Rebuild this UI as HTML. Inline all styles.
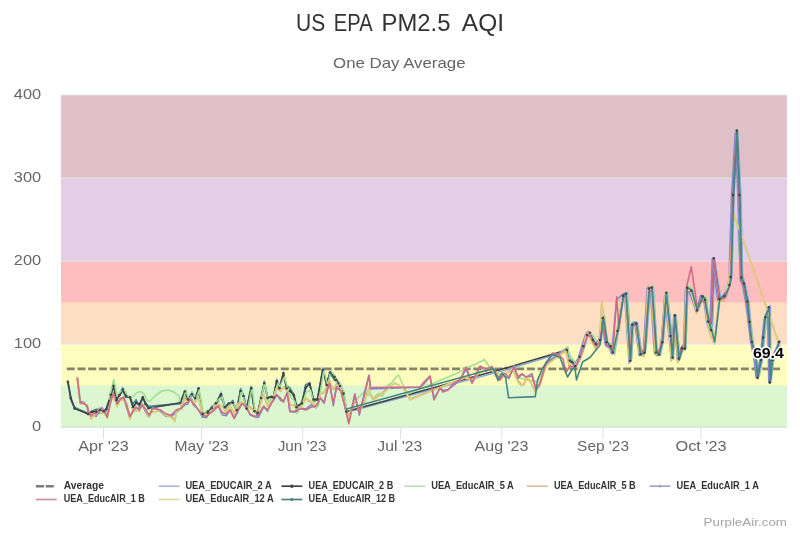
<!DOCTYPE html><html><head><meta charset="utf-8"><style>html,body{margin:0;padding:0;background:#fff;overflow:hidden}svg{display:block;filter:blur(0.45px)}text{font-family:"Liberation Sans",sans-serif}</style></head><body>
<svg width="800" height="533" viewBox="0 0 800 533">
<rect x="0" y="0" width="800" height="533" fill="#fff"/>
<text x="296.09" y="31.4" font-size="23.5" fill="#333" textLength="29.25" lengthAdjust="spacingAndGlyphs">US</text>
<text x="333.77" y="31.4" font-size="23.5" fill="#333" textLength="38.8" lengthAdjust="spacingAndGlyphs">EPA</text>
<text x="381.57" y="31.4" font-size="23.5" fill="#333" textLength="68.86" lengthAdjust="spacingAndGlyphs">PM2.5</text>
<text x="461.8" y="31.4" font-size="23.5" fill="#333" textLength="42.18" lengthAdjust="spacingAndGlyphs">AQI</text>
<text x="399.3" y="68.4" text-anchor="middle" font-size="14.5" fill="#666" textLength="132.5" lengthAdjust="spacingAndGlyphs">One Day Average</text>
<rect x="61" y="95.00" width="726" height="84.00" fill="#dfc0c8"/>
<rect x="61" y="178.00" width="726" height="84.00" fill="#e3cee6"/>
<rect x="61" y="261.00" width="726" height="42.50" fill="#febebf"/>
<rect x="61" y="302.50" width="726" height="42.50" fill="#fddec3"/>
<rect x="61" y="344.00" width="726" height="42.50" fill="#fefdbe"/>
<rect x="61" y="385.50" width="726" height="41.50" fill="#dcf7cf"/>
<line x1="61" x2="787" y1="344.00" y2="344.00" stroke="#e6e6e6" stroke-width="1"/>
<line x1="61" x2="787" y1="261.00" y2="261.00" stroke="#e6e6e6" stroke-width="1"/>
<line x1="61" x2="787" y1="178.00" y2="178.00" stroke="#e6e6e6" stroke-width="1"/>
<line x1="61" x2="787" y1="95.00" y2="95.00" stroke="#e6e6e6" stroke-width="1"/>
<text x="41.1" y="431.10" text-anchor="end" font-size="14.6" fill="#666" textLength="9.2" lengthAdjust="spacingAndGlyphs">0</text>
<text x="41.1" y="348.10" text-anchor="end" font-size="14.6" fill="#666" textLength="27.3" lengthAdjust="spacingAndGlyphs">100</text>
<text x="41.1" y="265.10" text-anchor="end" font-size="14.6" fill="#666" textLength="27.3" lengthAdjust="spacingAndGlyphs">200</text>
<text x="41.1" y="182.10" text-anchor="end" font-size="14.6" fill="#666" textLength="27.3" lengthAdjust="spacingAndGlyphs">300</text>
<text x="41.1" y="99.10" text-anchor="end" font-size="14.6" fill="#666" textLength="27.3" lengthAdjust="spacingAndGlyphs">400</text>
<line x1="61" x2="787" y1="427.1" y2="427.1" stroke="#ccd9cb" stroke-width="1"/>
<line x1="103.50" x2="103.50" y1="427" y2="439" stroke="#dcdfe8" stroke-width="1"/>
<text x="103.50" y="451.0" text-anchor="middle" font-size="14.4" fill="#666" textLength="50.6" lengthAdjust="spacingAndGlyphs">Apr '23</text>
<line x1="201.45" x2="201.45" y1="427" y2="439" stroke="#dcdfe8" stroke-width="1"/>
<text x="201.65" y="451.0" text-anchor="middle" font-size="14.4" fill="#666" textLength="54.3" lengthAdjust="spacingAndGlyphs">May '23</text>
<line x1="302.67" x2="302.67" y1="427" y2="439" stroke="#dcdfe8" stroke-width="1"/>
<text x="302.15" y="451.0" text-anchor="middle" font-size="14.4" fill="#666" textLength="48.9" lengthAdjust="spacingAndGlyphs">Jun '23</text>
<line x1="400.62" x2="400.62" y1="427" y2="439" stroke="#dcdfe8" stroke-width="1"/>
<text x="399.75" y="451.0" text-anchor="middle" font-size="14.4" fill="#666" textLength="44.9" lengthAdjust="spacingAndGlyphs">Jul '23</text>
<line x1="501.83" x2="501.83" y1="427" y2="439" stroke="#dcdfe8" stroke-width="1"/>
<text x="501.50" y="451.0" text-anchor="middle" font-size="14.4" fill="#666" textLength="54.0" lengthAdjust="spacingAndGlyphs">Aug '23</text>
<line x1="603.05" x2="603.05" y1="427" y2="439" stroke="#dcdfe8" stroke-width="1"/>
<text x="603.05" y="451.0" text-anchor="middle" font-size="14.4" fill="#666" textLength="51.9" lengthAdjust="spacingAndGlyphs">Sep '23</text>
<line x1="701.00" x2="701.00" y1="427" y2="439" stroke="#dcdfe8" stroke-width="1"/>
<text x="701.05" y="451.0" text-anchor="middle" font-size="14.4" fill="#666" textLength="51.1" lengthAdjust="spacingAndGlyphs">Oct '23</text>
<line x1="66.8" x2="780" y1="368.90" y2="368.90" stroke="#86836a" stroke-width="2.8" stroke-dasharray="8 2.7"/>
<polyline points="67.8,381.6 70.8,400.3 74.6,408.5 88.2,412.5 91.9,412.5 96.2,409.6 100.0,408.0 103.8,412.2 106.2,411.6 110.8,395.6 113.4,384.3 116.5,400.1 119.5,393.5 122.7,387.3 126.0,395.7 129.9,397.4 133.0,407.2 136.1,402.8 139.5,406.5 142.8,399.0 145.5,403.1 148.5,407.1 180.2,404.0 184.8,393.2 188.0,401.7 192.0,391.7 195.3,400.1 198.6,390.7 202.6,411.8 207.8,414.0 211.7,405.9 215.7,405.7 221.0,392.3 224.9,405.3 228.8,405.0 232.8,403.0 236.7,408.5 240.7,389.1 243.5,394.1 246.6,407.2 251.2,390.7 254.5,410.2 257.7,411.2 261.0,399.8 264.3,381.0 267.6,396.7 271.5,398.2 273.5,396.5 276.8,379.0 279.4,386.9 283.4,372.5 286.6,390.5 290.0,391.4 293.9,393.9 296.5,409.3 301.8,402.0 305.7,388.8 309.6,382.2 313.6,401.3 317.5,399.0 322.8,367.6 326.7,383.7 330.0,371.3 334.6,377.5 336.0,378.4 340.0,383.8 343.5,393.8 346.5,412.2 506.0,370.1 568.1,350.8 571.2,358.7 572.9,361.4 576.1,367.6 581.0,357.3 584.6,347.1 588.0,334.7 591.0,334.8 593.9,341.6 597.0,344.9 601.2,339.5 604.4,315.6 607.4,344.3 611.9,344.3 614.4,354.7 618.5,330.6 624.0,294.9 627.5,292.0 631.7,358.5 633.3,326.2 637.6,323.2 641.9,354.4 645.8,350.2 650.3,290.9 653.6,288.3 657.2,351.8 660.5,355.4 663.2,340.9 667.5,292.8 671.9,336.0 673.4,359.1 676.2,315.5 679.8,358.1 683.0,349.8 685.8,348.6 688.0,288.8 692.2,289.6 698.1,311.1 703.4,296.1 706.1,298.9 709.4,323.9 712.3,332.3 714.8,260.4 720.6,297.5 725.9,298.1 730.2,283.8 732.0,276.2 734.1,192.5 737.7,131.1 741.1,197.5 742.6,275.2 745.2,284.9 749.0,302.2 750.7,321.9 753.2,342.6 756.4,357.8 759.1,376.3 762.0,361.9 764.3,339.8 766.7,318.3 770.3,305.8 771.0,381.4 773.6,361.0 776.7,354.5 780.1,340.7" fill="none" stroke="#8cb1d5" stroke-width="1.6" stroke-opacity="1.0" stroke-linejoin="round" stroke-linecap="round"/>
<polyline points="68.2,382.5 71.0,398.5 74.6,407.2 88.2,414.0 91.9,411.2 96.2,409.3 100.0,412.8 103.8,412.2 106.2,408.7 110.8,396.4 113.4,384.5 116.5,398.9 119.5,395.8 122.7,390.5 126.0,397.5 129.9,396.7 133.0,404.1 136.1,399.6 139.5,406.5 142.8,396.8 145.5,402.9 148.5,406.2 180.2,403.5 184.8,391.4 188.0,398.7 192.0,393.5 195.3,399.3 198.6,389.2 202.6,417.1 207.8,410.5 211.7,410.9 215.7,405.2 221.0,396.7 224.9,407.0 228.8,405.0 232.8,400.4 236.7,411.7 240.7,388.9 243.5,396.5 246.6,408.5 251.2,386.5 254.5,410.5 257.7,415.4 261.0,398.6 264.3,383.7 267.6,397.2 271.5,396.8 273.5,396.0 276.8,380.8 279.4,388.8 283.4,374.7 286.6,385.2 290.0,388.4 293.9,394.4 296.5,405.2 301.8,404.3 305.7,384.5 309.6,383.3 313.6,401.4 317.5,399.7 322.8,369.7 326.7,382.5 330.0,373.6 334.6,380.3 336.0,378.7 340.0,389.0 343.5,396.6 346.5,408.9" fill="none" stroke="#448585" stroke-width="1.6" stroke-opacity="1.0" stroke-linejoin="round" stroke-linecap="round"/>
<polyline points="67.8,381.8 70.8,398.2 74.6,408.5 88.2,414.1 91.9,411.9 96.2,411.6 100.0,410.0 103.8,411.2 106.2,409.2 110.8,394.8 113.4,386.0 116.5,400.0 119.5,395.0 122.7,389.6 126.0,396.0 129.9,397.3 133.0,407.2 136.1,403.0 139.5,404.0 142.8,397.3 145.5,404.0 148.5,408.2 180.2,402.7 184.8,391.5 188.0,399.4 192.0,394.2 195.3,398.0 198.6,388.3 202.6,413.9 207.8,412.6 211.7,408.0 215.7,403.4 221.0,394.2 224.9,407.3 228.8,403.5 232.8,402.7 236.7,410.0 240.7,390.9 243.5,396.0 246.6,408.6 251.2,388.3 254.5,411.2 257.7,412.6 261.0,398.0 264.3,383.0 267.6,398.1 271.5,396.8 273.5,397.5 276.8,381.0 279.4,388.2 283.4,373.1 286.6,388.2 290.0,391.0 293.9,395.5 296.5,407.3 301.8,403.3 305.7,387.6 309.6,383.7 313.6,399.4 317.5,399.4 322.8,369.9 326.7,385.0 330.0,372.5 334.6,377.0 336.0,380.0 340.0,386.0 343.5,393.5 346.5,411.6 506.0,368.0 566.8,350.0 569.8,360.5 572.0,362.0 575.0,366.0 579.5,356.8 583.3,346.3 587.0,335.0 590.0,332.8 593.0,340.0 596.0,344.0 600.0,340.0 602.8,318.0 606.5,342.2 610.6,346.3 612.7,352.5 617.5,331.0 623.0,295.8 626.1,293.7 630.2,360.7 632.3,324.6 636.4,323.6 640.5,354.5 644.6,352.5 648.8,288.6 651.9,287.5 656.0,352.5 659.0,354.5 662.2,342.2 666.3,292.7 670.4,336.0 672.5,357.5 675.0,315.4 678.7,358.5 681.8,348.4 684.8,348.4 687.0,287.8 691.3,290.7 696.9,310.4 702.5,296.3 705.0,300.0 708.1,321.6 711.0,330.0 713.8,258.3 719.4,299.1 724.4,296.0 729.3,285.0 730.5,277.0 733.0,195.0 736.8,130.5 739.4,195.0 741.3,277.6 744.0,283.5 747.4,301.5 749.6,321.8 751.9,342.0 755.3,355.6 757.5,378.0 760.9,360.0 763.2,337.6 765.4,317.3 768.8,307.2 769.9,382.6 772.2,360.0 775.7,352.6 778.9,342.0" fill="none" stroke="#434346" stroke-width="1.6" stroke-opacity="1.0" stroke-linejoin="round" stroke-linecap="round"/>
<polyline points="109.0,399.0 113.8,379.5 117.0,396.0 121.0,391.0 124.0,388.5 127.0,395.0 130.0,397.0 133.5,396.0 137.0,392.5 140.5,391.5 144.0,394.0 147.5,401.0 150.0,401.0 156.0,395.0 162.0,391.0 168.0,390.0 174.0,392.0 179.0,396.0 181.3,408.7 185.9,389.8 188.9,400.7 192.8,392.9 195.9,399.5 199.2,389.9 203.0,412.2 208.8,413.9 212.5,412.1 216.4,401.4 222.0,397.0 225.8,410.4 230.0,404.3 233.8,403.5 237.6,413.4 241.4,389.2 244.3,400.0 247.5,410.1 252.1,387.4 255.0,411.6 258.8,411.9 261.5,396.4 264.7,383.0 268.5,403.0 272.2,397.6 274.1,397.7 277.8,383.4 280.0,386.7 284.4,377.0 287.7,387.8 290.8,396.8 294.8,401.5 297.0,413.6 302.2,404.5 306.1,392.4 310.5,390.0 314.6,405.4 318.3,405.8 323.8,370.5 327.9,385.9 330.6,370.7 335.4,376.3 337.1,386.1 340.6,384.4 344.3,392.5 347.3,416.4 356.0,400.0 364.0,392.0 373.5,398.0 378.0,393.5 382.5,396.5 387.0,386.0 391.6,383.0 396.0,377.0 398.5,375.0 402.0,383.0 406.6,392.0 410.0,393.0 460.0,372.0 466.0,368.0 476.0,364.0 484.6,359.5 490.0,368.0 496.0,374.0 502.0,378.0 508.0,372.0 514.0,370.0 520.0,378.0 528.0,380.0 537.5,382.0 546.5,364.0 567.9,346.7 570.1,361.5 572.4,358.6 575.8,363.7 580.5,354.0 584.4,343.9 587.8,335.7 590.8,333.4 593.9,336.2 597.0,342.9 600.5,337.0 603.8,315.0 607.6,342.1 611.7,345.1 613.6,351.6 618.0,331.8 623.5,295.7 627.2,293.0 630.6,360.8 633.1,321.5 636.7,322.3 640.8,355.1 645.3,351.1 649.4,287.9 652.9,285.0 656.6,351.4 659.5,353.5 662.9,340.4 667.1,291.3 670.8,337.0 673.1,355.7 675.6,316.0 679.8,357.1 682.4,344.9 685.8,345.3 687.7,285.5 691.9,288.5 697.4,306.6 703.2,296.3 705.8,297.0 709.0,317.9 715.2,340.0 715.2,340.0 720.4,297.6 725.1,294.9 731.0,270.0 734.0,216.0 737.0,222.0 741.0,275.0 745.0,290.0 750.0,322.0 753.0,345.0 757.0,372.0 762.0,355.0 766.0,318.0 769.0,309.0 771.0,372.0 776.0,352.0" fill="none" stroke="#a2df96" stroke-width="1.6" stroke-opacity="1.0" stroke-linejoin="round" stroke-linecap="round"/>
<polyline points="77.4,377.5 80.2,402.3 84.4,403.7 87.2,405.9 88.5,411.6 91.0,419.0 94.0,415.7 96.0,413.4 99.0,410.3 102.0,413.8 105.0,411.1 107.2,416.2 110.8,402.3 113.4,395.2 117.0,405.7 120.6,398.1 123.7,400.7 126.8,403.3 130.0,419.7 133.0,409.7 136.1,410.6 139.2,410.4 142.3,403.8 145.4,409.4 149.0,415.3 152.6,412.1 155.3,411.7 160.5,410.5 165.8,416.3 171.0,415.7 175.0,420.0 176.3,411.3 181.5,408.1 184.8,398.0 188.1,402.0 190.7,398.5 193.4,404.6 198.6,397.4 202.6,416.2 206.5,414.6 210.4,413.5 214.4,404.7 218.3,404.2 222.3,406.2 226.2,412.1 230.2,406.1 234.1,413.2 238.0,403.2 242.0,402.5 245.9,406.9 250.0,406.7 254.5,411.4 258.4,410.4 263.7,394.7 267.6,406.3 271.5,402.1 276.8,388.4 280.7,391.4 283.4,386.9 287.3,391.0 289.9,404.9 295.2,405.4 300.4,408.9 305.7,398.7 311.0,402.6 316.2,405.8 320.2,394.9 324.1,392.6 329.4,381.5 333.3,389.5 336.5,383.7 340.5,388.0 344.3,401.9 348.8,417.2 354.8,400.4 359.3,410.3 364.5,402.7 369.0,387.7 370.5,393.3 373.0,399.3 380.0,394.7 387.0,388.9 395.0,383.1 400.0,386.6 405.0,389.1 410.0,399.1 465.0,378.1 472.0,379.5 480.0,372.1 488.0,368.8 496.0,372.3 502.0,376.8 508.0,371.9 512.7,370.2 516.0,377.8 518.4,381.1 521.2,384.3 524.0,384.7 526.2,378.0 530.0,381.2 535.0,391.5 540.0,385.5 546.0,364.6 565.8,351.4 568.9,365.6 571.3,365.9 574.0,369.2 579.1,359.9 583.0,351.3 586.2,335.9 589.5,333.8 591.9,342.0 595.6,348.8 599.7,340.1 601.8,301.0 606.2,342.5 609.6,344.5 611.6,353.3 616.7,332.1 622.1,299.5 625.1,297.4 629.7,361.5 631.7,326.5 635.8,325.1 639.7,353.9 643.8,356.6 648.0,286.0 651.2,289.5 655.3,354.7 658.0,353.6 661.6,339.6 665.4,292.8 669.5,333.9 671.4,359.6 674.5,321.0 678.0,362.8 681.4,351.4 684.1,349.8 686.1,290.3 690.8,291.9 696.5,313.2 701.9,301.3 704.4,297.8 707.2,320.9 709.9,333.5 714.5,343.0 718.9,300.1 724.1,301.3 728.6,285.9 733.8,213.3 776.7,337.1 780.0,346.7" fill="none" stroke="#e0a97b" stroke-width="1.6" stroke-opacity="1.0" stroke-linejoin="round" stroke-linecap="round"/>
<polyline points="77.4,377.6 80.2,401.2 84.4,402.5 87.2,407.8 88.5,413.3 91.0,416.2 94.0,413.4 96.0,416.5 99.0,412.4 102.0,407.6 105.0,412.9 107.2,415.9 110.8,400.3 113.4,394.8 117.0,402.5 120.6,398.7 123.7,397.2 126.8,408.4 130.0,418.0 133.0,411.5 136.1,409.4 139.2,407.6 142.3,404.6 145.4,411.3 149.0,417.4 152.6,407.4 155.3,408.4 160.5,411.3 165.8,416.3 171.0,416.6 176.3,412.2 181.5,408.2 184.8,405.0 188.1,403.7 190.7,397.0 193.4,402.6 198.6,410.4 202.6,417.0 206.5,417.6 210.4,411.2 214.4,407.8 218.3,406.2 222.3,415.0 226.2,415.8 230.2,409.9 234.1,418.5 238.0,411.4 242.0,403.2 245.9,404.9 250.0,414.8 254.5,416.8 258.4,417.5 263.7,407.0 267.6,411.1 271.5,401.0 276.8,394.4 280.7,400.5 283.4,401.5 287.3,392.3 289.9,411.6 295.2,412.1 300.4,408.1 305.7,409.1 311.0,404.8 316.2,407.8 320.2,397.7 324.1,403.3 329.4,380.7 333.3,405.6 336.5,385.5 340.5,388.4 344.3,404.2 348.8,421.8 354.8,393.9 359.3,415.1 364.5,392.5 369.0,375.2 370.5,388.9 420.0,387.3 424.0,384.1 430.0,376.6 434.0,398.3 440.0,388.4 443.0,390.3 448.0,389.5 454.0,385.2 460.0,379.8 466.0,369.4 472.0,383.0 476.0,375.8 480.0,366.5 486.0,371.4 492.0,366.3 496.0,376.2 500.0,377.9 504.0,375.3 509.0,378.5 514.0,365.6 518.0,378.6 522.0,373.9 526.0,377.1 532.0,373.6 536.0,389.0 540.0,383.1 546.0,363.0 565.9,348.8 568.7,361.4 571.1,362.5 574.0,365.3 578.6,357.4 581.7,346.5 585.8,333.7 588.6,331.4 591.4,339.4 594.5,343.9 598.9,340.6 601.8,321.0 605.5,345.4 609.4,348.2 611.7,353.7 616.5,300.0 621.7,295.2 624.5,293.1 629.1,363.3 631.1,325.2 634.7,322.1 639.3,355.6 643.3,351.9 647.2,288.0 650.3,289.0 654.5,353.8 657.6,355.7 661.1,344.6 664.7,296.0 669.4,338.6 671.2,360.8 673.9,315.1 677.5,361.2 680.7,351.4 683.5,350.3 685.4,289.6 689.7,292.8 695.9,310.8 700.9,295.0 703.7,299.3 707.0,323.1 709.7,331.9 712.2,259.1 717.7,300.3 723.3,295.3 728.2,288.5 729.1,276.5 731.5,197.7 735.2,132.9 737.9,197.3 740.3,280.3 742.5,284.7 746.0,304.4 748.1,321.1 750.5,340.9 753.8,357.6 756.1,377.4 759.9,359.8 762.1,339.5 764.1,319.0 767.6,309.9 768.8,382.4 771.0,361.0 774.7,351.7 777.6,345.3" fill="none" stroke="#8588c9" stroke-width="1.6" stroke-opacity="1.0" stroke-linejoin="round" stroke-linecap="round"/>
<polyline points="77.4,378.0 80.2,403.6 84.4,403.4 87.2,405.7 88.5,410.6 91.0,417.9 94.0,414.4 96.0,414.8 99.0,409.4 102.0,413.1 105.0,412.9 107.2,418.1 110.8,400.9 113.4,394.3 117.0,407.2 120.6,399.6 123.7,400.0 126.8,405.1 130.0,419.2 133.0,411.0 136.1,409.2 139.2,411.8 142.3,404.2 145.4,409.5 149.0,417.2 152.6,412.2 155.3,412.0 160.5,410.3 165.8,415.6 171.0,417.2 175.0,421.8 176.3,409.8 181.5,409.6 184.8,399.5 188.1,401.4 190.7,398.1 193.4,403.2 198.6,398.5 202.6,415.3 206.5,414.9 210.4,411.6 214.4,405.8 218.3,405.1 222.3,406.9 226.2,412.6 230.2,405.1 234.1,414.4 238.0,405.0 242.0,401.8 245.9,408.0 250.0,408.1 254.5,412.5 258.4,411.9 263.7,394.3 267.6,406.1 271.5,400.2 276.8,387.2 280.7,391.0 283.4,386.4 287.3,390.4 289.9,404.0 295.2,407.1 300.4,408.5 305.7,398.0 311.0,400.9 316.2,407.2 320.2,394.5 324.1,391.1 329.4,381.1 333.3,388.3 336.5,384.7 340.5,387.6 344.3,403.2 348.8,418.9 354.8,398.6 359.3,412.1 364.5,401.9 369.0,389.6 370.5,394.6 373.0,400.0 380.0,396.0 387.0,390.0 395.0,383.0 400.0,386.0 405.0,391.0 410.0,400.0 465.0,377.0 472.0,380.0 480.0,372.0 488.0,368.0 496.0,372.0 502.0,378.0 508.0,372.0 512.7,369.0 516.0,378.0 518.4,382.7 521.2,386.0 524.0,382.7 526.2,377.0 530.0,380.0 535.0,392.0 540.0,384.0 546.0,366.0 565.8,350.1 568.9,364.0 571.3,364.6 574.0,367.5 579.1,358.4 583.0,349.7 586.2,334.0 589.5,332.4 591.9,342.7 595.6,347.2 599.7,340.0 601.8,301.1 606.2,341.8 609.6,345.4 611.6,351.7 616.7,330.8 622.1,299.4 625.1,296.8 629.7,362.5 631.7,327.5 635.8,323.7 639.7,354.7 643.8,356.4 648.0,287.9 651.2,290.6 655.3,355.0 658.0,353.8 661.6,341.4 665.4,293.6 669.5,335.2 671.4,361.3 674.5,319.2 678.0,362.3 681.4,350.5 684.1,349.9 686.1,288.7 690.8,290.7 696.5,311.9 701.9,299.4 704.4,299.7 707.2,320.6 709.9,333.8 714.2,344.0 718.9,299.7 724.1,299.6 728.6,284.4 733.8,213.8 776.7,337.6 780.0,345.0" fill="none" stroke="#dbd07d" stroke-width="1.6" stroke-opacity="1.0" stroke-linejoin="round" stroke-linecap="round"/>
<polyline points="77.4,378.9 80.2,402.9 84.4,403.8 87.2,405.7 88.5,411.0 91.0,416.0 94.0,413.0 96.0,414.0 99.0,410.0 102.0,410.0 105.0,413.0 107.2,417.5 110.8,401.0 113.4,392.7 117.0,404.0 120.6,399.0 123.7,397.3 126.8,406.0 130.0,416.4 133.0,411.0 136.1,407.0 139.2,410.0 142.3,405.0 145.4,409.0 149.0,415.4 152.6,409.0 155.3,408.6 160.5,410.0 165.8,413.9 171.0,415.2 176.3,410.0 181.5,408.0 184.8,403.4 188.1,402.0 190.7,399.4 193.4,404.7 198.6,410.0 202.6,415.2 206.5,416.5 210.4,412.6 214.4,410.0 218.3,406.0 222.3,412.6 226.2,413.9 230.2,410.0 234.1,417.8 238.0,410.0 242.0,403.4 245.9,407.3 250.0,413.9 254.5,416.5 258.4,415.2 263.7,406.0 267.6,410.0 271.5,403.4 276.8,395.5 280.7,398.1 283.4,402.0 287.3,392.9 289.9,411.2 295.2,411.2 300.4,408.6 305.7,410.0 311.0,407.3 316.2,406.0 320.2,398.1 324.1,402.0 329.4,383.0 333.3,403.4 336.5,388.0 340.5,390.5 344.3,404.0 348.8,423.6 354.8,395.0 359.3,413.0 364.5,395.0 369.0,375.5 370.5,387.5 420.0,387.0 424.0,382.0 430.0,376.0 434.0,400.0 440.0,388.0 443.0,392.0 448.0,390.0 454.0,383.0 460.0,380.0 466.0,367.0 472.0,383.0 476.0,374.0 480.0,366.0 486.0,369.0 492.0,367.0 496.0,374.0 500.0,380.0 504.0,373.0 509.0,377.0 514.0,367.0 518.0,377.0 522.0,374.0 526.0,377.0 532.0,376.0 536.0,390.0 540.0,383.0 546.0,364.0 552.5,353.0 558.5,354.5 563.0,359.0 566.0,372.5 570.0,366.0 575.0,368.0 579.5,358.0 583.3,348.0 587.0,337.0 590.0,335.0 593.0,342.0 596.0,346.0 600.0,342.0 602.8,321.0 606.5,344.0 610.6,348.0 612.7,352.5 616.8,296.8 618.9,329.8 623.0,298.0 626.1,296.0 630.2,358.0 632.3,326.0 636.4,325.0 640.5,352.0 644.6,350.0 648.8,292.0 651.9,290.0 656.0,350.0 659.0,352.0 662.2,340.0 666.3,295.0 670.4,334.0 672.5,356.0 675.0,318.0 678.7,358.0 681.8,346.0 684.8,346.0 687.0,285.0 691.3,266.7 696.9,305.0 702.5,300.0 705.0,303.0 708.1,318.0 711.0,322.0 713.8,258.3 719.4,300.0 724.4,298.0 729.3,287.0 730.5,279.0 733.0,200.0 736.8,135.0 739.4,200.0 741.3,280.0 744.0,287.0 747.4,304.0 749.6,323.0 751.9,344.0 755.3,356.0" fill="none" stroke="#ce6d84" stroke-width="1.6" stroke-opacity="1.0" stroke-linejoin="round" stroke-linecap="round"/>
<polyline points="346.5,408.9 493.6,368.5 498.0,380.5 501.8,373.0 505.6,377.5 508.6,397.8 535.3,396.6 537.5,380.0 542.0,369.5 546.5,362.0 552.5,354.5 560.0,357.5 564.5,369.5 567.5,377.0 572.0,369.5 575.0,368.0 576.5,380.0 582.5,362.0 590.0,357.5 596.0,350.0 600.0,345.0 603.4,317.0 607.2,341.4 610.9,347.5 612.9,352.5 617.5,332.4 623.7,294.8 626.1,293.6 630.5,361.5 632.5,324.9 636.4,322.7 640.5,354.6 645.0,352.9 649.4,288.0 652.1,287.4 656.7,351.9 659.1,354.3 662.7,341.5 666.3,293.4 670.8,336.2 672.4,356.7 675.0,315.0 679.3,360.0 682.4,348.0 685.2,349.6 687.2,287.5 691.8,290.2 697.2,310.0 703.1,296.4 705.0,298.5 708.5,320.4 711.4,329.2 714.7,342.0 719.8,298.0 724.6,296.5 729.4,286.5 731.2,278.4 733.6,196.3 737.2,131.5 739.6,193.7 741.9,278.9 744.1,283.1 747.5,302.1 749.6,322.7 751.8,341.7 755.8,355.6 757.5,376.6 761.3,358.7 763.3,337.9 765.5,315.9 769.3,307.9 770.3,381.4 772.5,361.4 776.0,351.9 779.5,341.5" fill="none" stroke="#448585" stroke-width="1.6" stroke-opacity="1.0" stroke-linejoin="round" stroke-linecap="round"/>
<circle cx="67.8" cy="381.8" r="1.3" fill="#434348"/>
<circle cx="70.8" cy="398.2" r="1.3" fill="#434348"/>
<circle cx="74.6" cy="408.5" r="1.3" fill="#434348"/>
<circle cx="88.2" cy="414.1" r="1.3" fill="#434348"/>
<circle cx="91.9" cy="411.9" r="1.3" fill="#434348"/>
<circle cx="96.2" cy="411.6" r="1.3" fill="#434348"/>
<circle cx="100.0" cy="410.0" r="1.3" fill="#434348"/>
<circle cx="103.8" cy="411.2" r="1.3" fill="#434348"/>
<circle cx="106.2" cy="409.2" r="1.3" fill="#434348"/>
<circle cx="110.8" cy="394.8" r="1.3" fill="#434348"/>
<circle cx="113.4" cy="386.0" r="1.3" fill="#434348"/>
<circle cx="116.5" cy="400.0" r="1.3" fill="#434348"/>
<circle cx="119.5" cy="395.0" r="1.3" fill="#434348"/>
<circle cx="122.7" cy="389.6" r="1.3" fill="#434348"/>
<circle cx="126.0" cy="396.0" r="1.3" fill="#434348"/>
<circle cx="129.9" cy="397.3" r="1.3" fill="#434348"/>
<circle cx="133.0" cy="407.2" r="1.3" fill="#434348"/>
<circle cx="136.1" cy="403.0" r="1.3" fill="#434348"/>
<circle cx="139.5" cy="404.0" r="1.3" fill="#434348"/>
<circle cx="142.8" cy="397.3" r="1.3" fill="#434348"/>
<circle cx="145.5" cy="404.0" r="1.3" fill="#434348"/>
<circle cx="148.5" cy="408.2" r="1.3" fill="#434348"/>
<circle cx="180.2" cy="402.7" r="1.3" fill="#434348"/>
<circle cx="184.8" cy="391.5" r="1.3" fill="#434348"/>
<circle cx="188.0" cy="399.4" r="1.3" fill="#434348"/>
<circle cx="192.0" cy="394.2" r="1.3" fill="#434348"/>
<circle cx="195.3" cy="398.0" r="1.3" fill="#434348"/>
<circle cx="198.6" cy="388.3" r="1.3" fill="#434348"/>
<circle cx="202.6" cy="413.9" r="1.3" fill="#434348"/>
<circle cx="207.8" cy="412.6" r="1.3" fill="#434348"/>
<circle cx="211.7" cy="408.0" r="1.3" fill="#434348"/>
<circle cx="215.7" cy="403.4" r="1.3" fill="#434348"/>
<circle cx="221.0" cy="394.2" r="1.3" fill="#434348"/>
<circle cx="224.9" cy="407.3" r="1.3" fill="#434348"/>
<circle cx="228.8" cy="403.5" r="1.3" fill="#434348"/>
<circle cx="232.8" cy="402.7" r="1.3" fill="#434348"/>
<circle cx="236.7" cy="410.0" r="1.3" fill="#434348"/>
<circle cx="240.7" cy="390.9" r="1.3" fill="#434348"/>
<circle cx="243.5" cy="396.0" r="1.3" fill="#434348"/>
<circle cx="246.6" cy="408.6" r="1.3" fill="#434348"/>
<circle cx="251.2" cy="388.3" r="1.3" fill="#434348"/>
<circle cx="254.5" cy="411.2" r="1.3" fill="#434348"/>
<circle cx="257.7" cy="412.6" r="1.3" fill="#434348"/>
<circle cx="261.0" cy="398.0" r="1.3" fill="#434348"/>
<circle cx="264.3" cy="383.0" r="1.3" fill="#434348"/>
<circle cx="267.6" cy="398.1" r="1.3" fill="#434348"/>
<circle cx="271.5" cy="396.8" r="1.3" fill="#434348"/>
<circle cx="273.5" cy="397.5" r="1.3" fill="#434348"/>
<circle cx="276.8" cy="381.0" r="1.3" fill="#434348"/>
<circle cx="279.4" cy="388.2" r="1.3" fill="#434348"/>
<circle cx="283.4" cy="373.1" r="1.3" fill="#434348"/>
<circle cx="286.6" cy="388.2" r="1.3" fill="#434348"/>
<circle cx="290.0" cy="391.0" r="1.3" fill="#434348"/>
<circle cx="293.9" cy="395.5" r="1.3" fill="#434348"/>
<circle cx="296.5" cy="407.3" r="1.3" fill="#434348"/>
<circle cx="301.8" cy="403.3" r="1.3" fill="#434348"/>
<circle cx="305.7" cy="387.6" r="1.3" fill="#434348"/>
<circle cx="309.6" cy="383.7" r="1.3" fill="#434348"/>
<circle cx="313.6" cy="399.4" r="1.3" fill="#434348"/>
<circle cx="317.5" cy="399.4" r="1.3" fill="#434348"/>
<circle cx="322.8" cy="369.9" r="1.3" fill="#434348"/>
<circle cx="326.7" cy="385.0" r="1.3" fill="#434348"/>
<circle cx="330.0" cy="372.5" r="1.3" fill="#434348"/>
<circle cx="334.6" cy="377.0" r="1.3" fill="#434348"/>
<circle cx="336.0" cy="380.0" r="1.3" fill="#434348"/>
<circle cx="340.0" cy="386.0" r="1.3" fill="#434348"/>
<circle cx="343.5" cy="393.5" r="1.3" fill="#434348"/>
<circle cx="346.5" cy="411.6" r="1.3" fill="#434348"/>
<circle cx="506.0" cy="368.0" r="1.3" fill="#434348"/>
<circle cx="566.8" cy="350.0" r="1.3" fill="#434348"/>
<circle cx="569.8" cy="360.5" r="1.3" fill="#434348"/>
<circle cx="572.0" cy="362.0" r="1.3" fill="#434348"/>
<circle cx="575.0" cy="366.0" r="1.3" fill="#434348"/>
<circle cx="579.5" cy="356.8" r="1.3" fill="#434348"/>
<circle cx="583.3" cy="346.3" r="1.3" fill="#434348"/>
<circle cx="587.0" cy="335.0" r="1.3" fill="#434348"/>
<circle cx="590.0" cy="332.8" r="1.3" fill="#434348"/>
<circle cx="593.0" cy="340.0" r="1.3" fill="#434348"/>
<circle cx="596.0" cy="344.0" r="1.3" fill="#434348"/>
<circle cx="600.0" cy="340.0" r="1.3" fill="#434348"/>
<circle cx="602.8" cy="318.0" r="1.3" fill="#434348"/>
<circle cx="606.5" cy="342.2" r="1.3" fill="#434348"/>
<circle cx="610.6" cy="346.3" r="1.3" fill="#434348"/>
<circle cx="612.7" cy="352.5" r="1.3" fill="#434348"/>
<circle cx="617.5" cy="331.0" r="1.3" fill="#434348"/>
<circle cx="623.0" cy="295.8" r="1.3" fill="#434348"/>
<circle cx="626.1" cy="293.7" r="1.3" fill="#434348"/>
<circle cx="630.2" cy="360.7" r="1.3" fill="#434348"/>
<circle cx="632.3" cy="324.6" r="1.3" fill="#434348"/>
<circle cx="636.4" cy="323.6" r="1.3" fill="#434348"/>
<circle cx="640.5" cy="354.5" r="1.3" fill="#434348"/>
<circle cx="644.6" cy="352.5" r="1.3" fill="#434348"/>
<circle cx="648.8" cy="288.6" r="1.3" fill="#434348"/>
<circle cx="651.9" cy="287.5" r="1.3" fill="#434348"/>
<circle cx="656.0" cy="352.5" r="1.3" fill="#434348"/>
<circle cx="659.0" cy="354.5" r="1.3" fill="#434348"/>
<circle cx="662.2" cy="342.2" r="1.3" fill="#434348"/>
<circle cx="666.3" cy="292.7" r="1.3" fill="#434348"/>
<circle cx="670.4" cy="336.0" r="1.3" fill="#434348"/>
<circle cx="672.5" cy="357.5" r="1.3" fill="#434348"/>
<circle cx="675.0" cy="315.4" r="1.3" fill="#434348"/>
<circle cx="678.7" cy="358.5" r="1.3" fill="#434348"/>
<circle cx="681.8" cy="348.4" r="1.3" fill="#434348"/>
<circle cx="684.8" cy="348.4" r="1.3" fill="#434348"/>
<circle cx="687.0" cy="287.8" r="1.3" fill="#434348"/>
<circle cx="691.3" cy="290.7" r="1.3" fill="#434348"/>
<circle cx="696.9" cy="310.4" r="1.3" fill="#434348"/>
<circle cx="702.5" cy="296.3" r="1.3" fill="#434348"/>
<circle cx="705.0" cy="300.0" r="1.3" fill="#434348"/>
<circle cx="708.1" cy="321.6" r="1.3" fill="#434348"/>
<circle cx="711.0" cy="330.0" r="1.3" fill="#434348"/>
<circle cx="713.8" cy="258.3" r="1.3" fill="#434348"/>
<circle cx="719.4" cy="299.1" r="1.3" fill="#434348"/>
<circle cx="724.4" cy="296.0" r="1.3" fill="#434348"/>
<circle cx="729.3" cy="285.0" r="1.3" fill="#434348"/>
<circle cx="730.5" cy="277.0" r="1.3" fill="#434348"/>
<circle cx="733.0" cy="195.0" r="1.3" fill="#434348"/>
<circle cx="736.8" cy="130.5" r="1.3" fill="#434348"/>
<circle cx="739.4" cy="195.0" r="1.3" fill="#434348"/>
<circle cx="741.3" cy="277.6" r="1.3" fill="#434348"/>
<circle cx="744.0" cy="283.5" r="1.3" fill="#434348"/>
<circle cx="747.4" cy="301.5" r="1.3" fill="#434348"/>
<circle cx="749.6" cy="321.8" r="1.3" fill="#434348"/>
<circle cx="751.9" cy="342.0" r="1.3" fill="#434348"/>
<circle cx="755.3" cy="355.6" r="1.3" fill="#434348"/>
<circle cx="757.5" cy="378.0" r="1.3" fill="#434348"/>
<circle cx="760.9" cy="360.0" r="1.3" fill="#434348"/>
<circle cx="763.2" cy="337.6" r="1.3" fill="#434348"/>
<circle cx="765.4" cy="317.3" r="1.3" fill="#434348"/>
<circle cx="768.8" cy="307.2" r="1.3" fill="#434348"/>
<circle cx="769.9" cy="382.6" r="1.3" fill="#434348"/>
<circle cx="772.2" cy="360.0" r="1.3" fill="#434348"/>
<circle cx="775.7" cy="352.6" r="1.3" fill="#434348"/>
<circle cx="778.9" cy="342.0" r="1.3" fill="#434348"/>
<text x="768.4" y="358" text-anchor="middle" font-size="14.2" font-weight="bold" fill="#000" stroke="#fff" stroke-width="3" stroke-linejoin="round" paint-order="stroke" textLength="31" lengthAdjust="spacingAndGlyphs">69.4</text>
<line x1="35.9" x2="55.099999999999994" y1="486.2" y2="486.2" stroke="#7c7c7c" stroke-width="2.5" stroke-dasharray="8.1 1.7"/>
<text x="63.8" y="488.80" font-size="10.4" font-weight="bold" fill="#333" textLength="40.3" lengthAdjust="spacingAndGlyphs">Average</text>
<line x1="158.7" x2="179.5" y1="486.2" y2="486.2" stroke="#aabfd3" stroke-width="1.7"/>
<text x="185.4" y="488.80" font-size="10.4" font-weight="bold" fill="#333" textLength="86.3" lengthAdjust="spacingAndGlyphs">UEA_EDUCAIR_2 A</text>
<line x1="281.4" x2="302.2" y1="486.2" y2="486.2" stroke="#434346" stroke-width="1.7"/>
<circle cx="291.79999999999995" cy="486.2" r="1.7" fill="#434348"/>
<text x="308.6" y="488.80" font-size="10.4" font-weight="bold" fill="#333" textLength="84.6" lengthAdjust="spacingAndGlyphs">UEA_EDUCAIR_2 B</text>
<line x1="404.4" x2="425.2" y1="486.2" y2="486.2" stroke="#bddfb6" stroke-width="1.7"/>
<text x="431.2" y="488.80" font-size="10.4" font-weight="bold" fill="#333" textLength="82.6" lengthAdjust="spacingAndGlyphs">UEA_EducAIR_5 A</text>
<line x1="527.0" x2="547.8" y1="486.2" y2="486.2" stroke="#dbbda3" stroke-width="1.7"/>
<text x="553.9" y="488.80" font-size="10.4" font-weight="bold" fill="#333" textLength="81.7" lengthAdjust="spacingAndGlyphs">UEA_EducAIR_5 B</text>
<line x1="649.6" x2="670.4" y1="486.2" y2="486.2" stroke="#a0a1c5" stroke-width="1.7"/>
<circle cx="660.0" cy="486.2" r="1.4" fill="#a0a1c5"/>
<text x="676.6" y="488.80" font-size="10.4" font-weight="bold" fill="#333" textLength="82.2" lengthAdjust="spacingAndGlyphs">UEA_EducAIR_1 A</text>
<line x1="35.9" x2="56.7" y1="499.5" y2="499.5" stroke="#c8929f" stroke-width="1.7"/>
<text x="63.8" y="501.60" font-size="10.4" font-weight="bold" fill="#333" textLength="81" lengthAdjust="spacingAndGlyphs">UEA_EducAIR_1 B</text>
<line x1="158.7" x2="179.5" y1="499.5" y2="499.5" stroke="#ddd8aa" stroke-width="1.7"/>
<text x="185.4" y="501.60" font-size="10.4" font-weight="bold" fill="#333" textLength="88.4" lengthAdjust="spacingAndGlyphs">UEA_EducAIR_12 A</text>
<line x1="281.4" x2="302.2" y1="499.5" y2="499.5" stroke="#527f7f" stroke-width="1.7"/>
<circle cx="291.79999999999995" cy="499.5" r="1.4" fill="#527f7f"/>
<text x="308.6" y="501.60" font-size="10.4" font-weight="bold" fill="#333" textLength="86.6" lengthAdjust="spacingAndGlyphs">UEA_EducAIR_12 B</text>
<text x="787" y="526" text-anchor="end" font-size="11.6" fill="#a6a6a6" textLength="83.4" lengthAdjust="spacingAndGlyphs">PurpleAir.com</text>
</svg></body></html>
